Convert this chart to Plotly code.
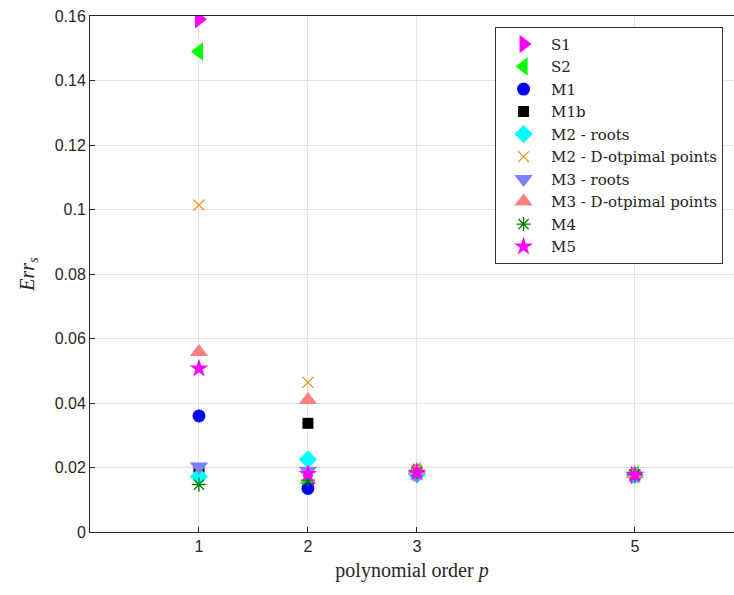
import plotly.graph_objects as go

# polynomial orders evaluated
orders = [1, 2, 3, 5]

# error per method at each order
err_S1 = [0.1590, 0.0152, 0.0185, 0.0177]
err_S2 = [0.1490, 0.0152, 0.0188, 0.0178]
err_M1 = [0.0360, 0.0135, 0.0180, 0.0176]
err_M1b = [0.0192, 0.0337, 0.0183, 0.0177]
err_M2_roots = [0.0172, 0.0225, 0.0178, 0.0176]
err_M2_dopt = [0.1014, 0.0464, 0.0190, 0.0178]
err_M3_roots = [0.0203, 0.0190, 0.0176, 0.0175]
err_M3_dopt = [0.0558, 0.0409, 0.0192, 0.0179]
err_M4 = [0.0147, 0.0161, 0.0187, 0.0178]
err_M5 = [0.0507, 0.0180, 0.0184, 0.0177]

x_ticks = [1, 2, 3, 5]
y_ticks = [0, 0.02, 0.04, 0.06, 0.08, 0.1, 0.12, 0.14, 0.16]
y_tick_text = ["0", "0.02", "0.04", "0.06", "0.08", "0.1", "0.12", "0.14", "0.16"]

series = [
    ("S1", err_S1, "triangle-right", "#FF00FF", 16, None),
    ("S2", err_S2, "triangle-left", "#00FF00", 16, None),
    ("M1", err_M1, "circle", "#0000FF", 13, None),
    ("M1b", err_M1b, "square", "#000000", 11, None),
    ("M2 - roots", err_M2_roots, "diamond", "#00FFFF", 14, None),
    ("M2 - D-otpimal points", err_M2_dopt, "x-thin-open", "#FF8C1A", 11, 1.2),
    ("M3 - roots", err_M3_roots, "triangle-down", "#8080FF", 16, None),
    ("M3 - D-otpimal points", err_M3_dopt, "triangle-up", "#FF8080", 16, None),
    ("M4", err_M4, "asterisk-open", "#008000", 12, 1.3),
    ("M5", err_M5, "star", "#FF00FF", 14, None),
]

fig = go.Figure()
for name, vals, sym, col, size, lw in series:
    marker = dict(symbol=sym, color=col, size=size)
    if lw is not None:
        marker["line"] = dict(color=col, width=lw)
    else:
        marker["line"] = dict(width=0)
    fig.add_trace(go.Scatter(x=orders, y=vals, mode="markers", name=name, marker=marker))

serif = "DejaVu Serif, Liberation Serif, serif"
sans = "Liberation Sans, Arial, sans-serif"

fig.update_layout(
    width=734,
    height=595,
    margin=dict(l=90, r=0, t=16, b=63),
    plot_bgcolor="white",
    paper_bgcolor="white",
    showlegend=True,
    legend=dict(
        x=0.629, y=0.979, xanchor="left", yanchor="top",
        bgcolor="white", bordercolor="#333333", borderwidth=1,
        font=dict(family=serif, size=15, color="#222222"),
        itemsizing="trace", itemwidth=45, tracegroupgap=0,
    ),
    xaxis=dict(
        range=[0, 5.91], tickvals=x_ticks, ticktext=[str(v) for v in x_ticks],
        showgrid=True, gridcolor="#E3E3E3", gridwidth=1,
        showline=True, linecolor="#262626", linewidth=1, mirror=True,
        ticks="inside", ticklen=5, tickcolor="#262626",
        tickfont=dict(family=sans, size=16, color="#262626"),
        zeroline=False,
        title=dict(text="polynomial order <i>p</i>", font=dict(family="Liberation Serif, serif", size=20, color="#262626"), standoff=8),
    ),
    yaxis=dict(
        range=[0, 0.16], tickvals=y_ticks, ticktext=y_tick_text,
        showgrid=True, gridcolor="#E3E3E3", gridwidth=1,
        showline=True, linecolor="#262626", linewidth=1, mirror=False,
        ticks="inside", ticklen=5, tickcolor="#262626",
        tickfont=dict(family=sans, size=16, color="#262626"),
        zeroline=False,
        title=dict(text="<i>Err</i><sub><i>s</i></sub>", font=dict(family="Liberation Serif, serif", size=20, color="#262626"), standoff=14),
    ),
)

fig.write_html("out.html")
